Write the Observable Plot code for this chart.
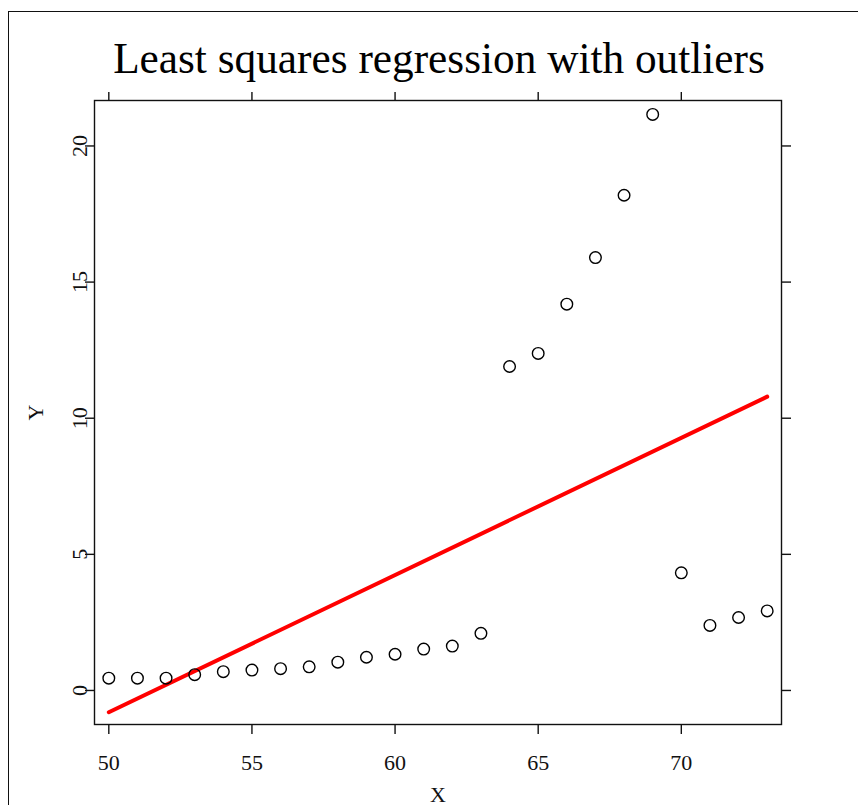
<!DOCTYPE html>
<html>
<head>
<meta charset="utf-8">
<script src="https://cdn.jsdelivr.net/npm/d3@7"></script>
<script src="https://cdn.jsdelivr.net/npm/@observablehq/plot@0.6"></script>
<style>
  html, body { margin: 0; padding: 0; background: #fff; }
  #wrap { position: relative; width: 858px; height: 805px; overflow: hidden; background: #fff; }
  #frame { position: absolute; left: 8px; top: 11px; width: 2000px; height: 2000px; border-left: 1.5px solid #111; border-top: 1.5px solid #111; box-sizing: border-box; }
  #title { position: absolute; left: 0; width: 878px; top: 37px; text-align: center; font-family: "Liberation Serif", "DejaVu Serif", serif; font-size: 43.3px; line-height: 43px; color: #000; white-space: nowrap; }
  #chart { position: absolute; left: 0; top: 0; }
</style>
</head>
<body>
<div id="wrap">
  <div id="frame"></div>
  <div id="title">Least squares regression with outliers</div>
  <div id="chart"></div>
</div>
<script>
const xValues = [50, 51, 52, 53, 54, 55, 56, 57, 58, 59, 60, 61, 62, 63, 64, 65, 66, 67, 68, 69, 70, 71, 72, 73];
const yValues = [0.45, 0.45, 0.45, 0.58, 0.69, 0.75, 0.80, 0.87, 1.04, 1.22, 1.33, 1.52, 1.63, 2.10, 11.90, 12.38, 14.19, 15.90, 18.19, 21.16, 4.32, 2.39, 2.68, 2.92];
const xTicks = [50, 55, 60, 65, 70];
const yTicks = [0, 5, 10, 15, 20];
const xTickLabels = ["50", "55", "60", "65", "70"];
const yTickLabels = ["0", "5", "10", "15", "20"];

const data = xValues.map((x, i) => ({x, y: yValues[i]}));
const font = "Liberation Serif, DejaVu Serif, serif";

const plot = Plot.plot({
  width: 858,
  height: 805,
  marginLeft: 94,
  marginRight: 77,
  marginTop: 100,
  marginBottom: 81,
  style: {fontFamily: font, fontSize: "22px", background: "transparent", overflow: "visible"},
  x: {domain: [49.5, 73.5], label: null},
  y: {domain: [-1.25, 21.67], label: null},
  marks: [
    Plot.frame({stroke: "#111", strokeWidth: 1.4}),
    // ticks on all four sides
    Plot.axisX(xTicks, {anchor: "bottom", tickSize: 10, text: null, stroke: "#111", strokeWidth: 1.4, label: null}),
    Plot.axisX(xTicks, {anchor: "top", tickSize: 9, text: null, stroke: "#111", strokeWidth: 1.4, label: null}),
    Plot.axisY(yTicks, {anchor: "left", tickSize: 9, text: null, stroke: "#111", strokeWidth: 1.4, label: null}),
    Plot.axisY(yTicks, {anchor: "right", tickSize: 9, text: null, stroke: "#111", strokeWidth: 1.4, label: null}),
    // tick labels
    Plot.text(xTicks, {x: d => d, text: (d, i) => xTickLabels[i], frameAnchor: "bottom", dy: 45, lineAnchor: "bottom", fill: "#111", fontSize: 22}),
    Plot.text(yTicks, {y: d => d, text: (d, i) => yTickLabels[i], frameAnchor: "left", dx: -8, rotate: -90, lineAnchor: "bottom", textAnchor: "middle", fill: "#111", fontSize: 22}),
    // axis titles
    Plot.text(["X"], {text: d => d, frameAnchor: "bottom", dy: 77, lineAnchor: "bottom", fill: "#111", fontSize: 22}),
    Plot.text(["Y"], {text: d => d, frameAnchor: "left", dx: -52, rotate: -90, lineAnchor: "bottom", textAnchor: "middle", fill: "#111", fontSize: 22}),
    // data
    Plot.linearRegressionY(data, {x: "x", y: "y", stroke: "#ff0000", strokeWidth: 4, ci: 0}),
    Plot.dot(data, {x: "x", y: "y", r: 5.8, stroke: "#000", strokeWidth: 1.4, fill: "none"})
  ]
});
document.getElementById("chart").appendChild(plot);
</script>
</body>
</html>
